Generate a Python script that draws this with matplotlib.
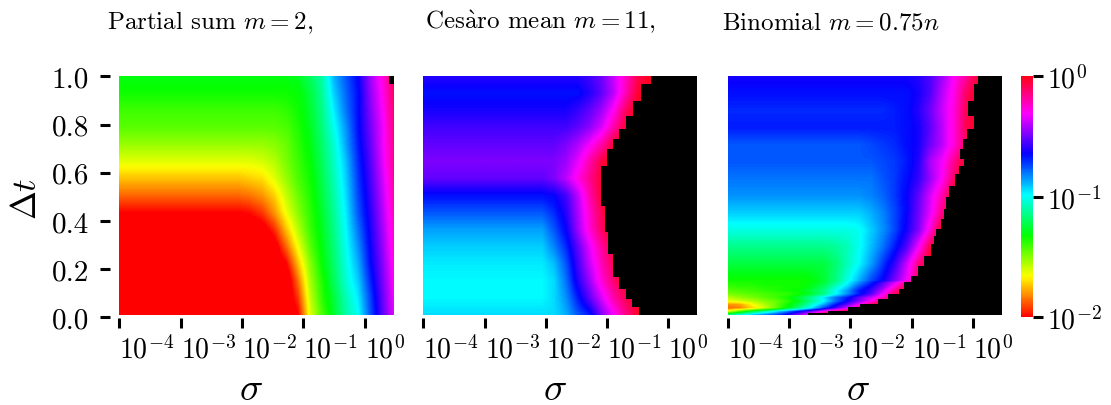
import numpy as np
from matplotlib import pyplot as plt
from matplotlib.patches import Rectangle

W, H = 1111, 406
SIG_MIN, SIG_MAX = -4.0, 0.477
DT_MIN = 0.01
STRIP_TOP = 0.152

SIGMA_TICKS = [-4, -3, -2, -1, 0]
SIGMA_LABELS = ["$10^{-4}$", "$10^{-3}$", "$10^{-2}$", "$10^{-1}$", "$10^{0}$"]
DT_TICKS = [0.0, 0.2, 0.4, 0.6, 0.8, 1.0]
DT_LABELS = ["0.0", "0.2", "0.4", "0.6", "0.8", "1.0"]
CBAR_TICKS = [-2, -1, 0]
CBAR_LABELS = ["$10^{-2}$", "$10^{-1}$", "$10^{0}$"]

TITLES = ["Partial sum $m=2$,", "Ces$\\mathrm{\\`a}$ro mean $m=11$,", "Binomial $m=0.75n$"]

# log10 of the error, rows from dt=1 down to dt=0.01, columns from sigma=1e-4 up
partial_log = [
    [-1.30] * 15 + [-1.28, -1.20, -1.10, -0.88, -0.76, -0.64, -0.44, -0.28, -0.08],
    [-1.34] * 15 + [-1.32, -1.24, -1.12, -0.92, -0.78, -0.66, -0.46, -0.30, -0.10],
    [-1.40] * 14 + [-1.38, -1.34, -1.26, -1.14, -0.96, -0.80, -0.66, -0.48, -0.32, -0.12],
    [-1.44] * 14 + [-1.42, -1.36, -1.28, -1.16, -1.00, -0.84, -0.66, -0.50, -0.34, -0.14],
    [-1.52] * 13 + [-1.50, -1.46, -1.38, -1.30, -1.18, -1.04, -0.86, -0.68, -0.52, -0.34, -0.16],
    [-1.62] * 12 + [-1.60, -1.56, -1.48, -1.40, -1.32, -1.20, -1.06, -0.90, -0.70, -0.54, -0.36, -0.16],
    [-1.74] * 11 + [-1.72, -1.70, -1.62, -1.52, -1.42, -1.34, -1.22, -1.08, -0.92, -0.72, -0.56, -0.38, -0.18],
    [-1.86] * 11 + [-1.84, -1.80, -1.72, -1.58, -1.46, -1.36, -1.24, -1.10, -0.94, -0.74, -0.58, -0.40, -0.20],
    [-2.00] * 11 + [-1.98, -1.92, -1.80, -1.64, -1.50, -1.38, -1.26, -1.12, -0.96, -0.76, -0.60, -0.42, -0.22],
    [-2.10] * 12 + [-2.06, -1.94, -1.74, -1.56, -1.40, -1.28, -1.14, -0.98, -0.80, -0.62, -0.44, -0.24],
    [-2.10] * 13 + [-2.06, -1.86, -1.64, -1.44, -1.30, -1.16, -1.00, -0.84, -0.64, -0.46, -0.26],
    [-2.10] * 14 + [-2.00, -1.74, -1.50, -1.32, -1.18, -1.02, -0.88, -0.66, -0.48, -0.28],
    [-2.10] * 15 + [-1.84, -1.54, -1.36, -1.20, -1.04, -0.92, -0.70, -0.50, -0.30],
    [-2.10] * 15 + [-1.92, -1.58, -1.38, -1.24, -1.08, -0.96, -0.74, -0.52, -0.32],
    [-2.10] * 15 + [-2.00, -1.62, -1.42, -1.26, -1.10, -1.00, -0.76, -0.54, -0.34],
]

cesaro_log = [
    [-0.60] * 14 + [-0.56, -0.50, -0.38, -0.24, -0.08, -0.02, 0, 0, 0, 0],
    [-0.66] * 14 + [-0.60, -0.52, -0.40, -0.22, -0.04, 0, 0, 0, 0, 0],
    [-0.62] * 13 + [-0.58, -0.52, -0.44, -0.30, -0.10] + [0] * 6,
    [-0.56] * 13 + [-0.52, -0.46, -0.36, -0.20, -0.04] + [0] * 6,
    [-0.52] * 12 + [-0.48, -0.42, -0.32, -0.20, -0.04] + [0] * 7,
    [-0.48] * 12 + [-0.44, -0.34, -0.20, -0.06] + [0] * 8,
    [-0.52] * 11 + [-0.48, -0.40, -0.28, -0.16, -0.04] + [0] * 8,
    [-0.66] * 11 + [-0.64, -0.56, -0.40, -0.20, -0.04] + [0] * 8,
    [-0.76] * 11 + [-0.70, -0.60, -0.42, -0.24, -0.08] + [0] * 8,
    [-0.86] * 11 + [-0.76, -0.64, -0.44, -0.26, -0.10] + [0] * 8,
    [-0.92] * 11 + [-0.82, -0.70, -0.52, -0.34, -0.18, -0.04] + [0] * 7,
    [-0.96] * 11 + [-0.90, -0.76, -0.56, -0.38, -0.22, -0.08] + [0] * 7,
    [-0.98] * 11 + [-0.94, -0.80, -0.60, -0.44, -0.26, -0.12, -0.02] + [0] * 6,
    [-0.98] * 11 + [-0.94, -0.84, -0.68, -0.52, -0.36, -0.20, -0.08] + [0] * 6,
    [-0.94] * 12 + [-0.88, -0.76, -0.68, -0.48, -0.32, -0.16, -0.04] + [0] * 5,
]

binomial_log = [
    [-0.62] * 16 + [-0.60, -0.54, -0.44, -0.30, -0.18, -0.04, 0, 0],
    [-0.66] * 16 + [-0.62, -0.54, -0.40, -0.28, -0.10, 0, 0, 0],
    [-0.70] * 14 + [-0.68, -0.66, -0.60, -0.50, -0.38, -0.26, -0.08, 0, 0, 0],
    [-0.68] * 15 + [-0.66, -0.62, -0.52, -0.40, -0.26, -0.08, 0, 0, 0],
    [-0.76] * 12 + [-0.74, -0.72, -0.70, -0.66, -0.62, -0.50, -0.40, -0.26, -0.10, 0, 0, 0],
    [-0.76] * 13 + [-0.74, -0.72, -0.68, -0.60, -0.42, -0.32, -0.16, 0, 0, 0, 0],
    [-0.80] * 13 + [-0.76, -0.72, -0.66, -0.58, -0.44, -0.30, -0.10, 0, 0, 0, 0],
    [-0.84] * 12 + [-0.82, -0.78, -0.72, -0.64, -0.52, -0.36, -0.20, 0, 0, 0, 0, 0],
    [-0.92] * 12 + [-0.88, -0.82, -0.74, -0.64, -0.50, -0.34, -0.14, 0, 0, 0, 0, 0],
    [-1.02] * 11 + [-1.00, -0.92, -0.84, -0.74, -0.62, -0.48, -0.26, 0, 0, 0, 0, 0, 0],
    [-1.14] * 9 + [-1.12, -1.08, -1.00, -0.90, -0.80, -0.68, -0.54, -0.32, -0.06, 0, 0, 0, 0, 0, 0],
    [-1.24] * 9 + [-1.18, -1.08, -0.98, -0.86, -0.72, -0.58, -0.38, -0.14, 0, 0, 0, 0, 0, 0, 0],
    [-1.34] * 7 + [-1.32, -1.26, -1.16, -1.02, -0.88, -0.74, -0.64, -0.48, -0.32, -0.08] + [0] * 7,
]

# finer rows for the small-dt corner of the binomial panel, dt=0.152 down to 0.01
binomial_strip_log = [
    [-1.34] * 7 + [-1.32, -1.26, -1.16, -1.02, -0.88, -0.74, -0.64, -0.48, -0.32, -0.08] + [0] * 7,
    [-1.36, -1.36, -1.36, -1.34, -1.34, -1.34, -1.34, -1.30, -1.24, -1.12, -0.98, -0.82, -0.68, -0.52, -0.34, -0.12] + [0] * 8,
    [-1.40, -1.38, -1.38, -1.36, -1.36, -1.34, -1.34, -1.28, -1.20, -1.06, -0.92, -0.74, -0.62, -0.48, -0.26, -0.06] + [0] * 8,
    [-1.44, -1.42, -1.40, -1.38, -1.36, -1.34, -1.32, -1.24, -1.16, -1.00, -0.86, -0.68, -0.58, -0.40, -0.16] + [0] * 9,
    [-1.48, -1.46, -1.44, -1.42, -1.40, -1.38, -1.34, -1.26, -1.16, -1.00, -0.84, -0.68, -0.54, -0.32, -0.10] + [0] * 9,
    [-1.56, -1.52, -1.48, -1.44, -1.40, -1.34, -1.24, -1.12, -0.96, -0.80, -0.68, -0.52, -0.38, -0.24, -0.04] + [0] * 9,
    [-1.64, -1.60, -1.56, -1.50, -1.46, -1.38, -1.28, -1.14, -1.00, -0.80, -0.64, -0.48, -0.30, -0.10] + [0] * 10,
    [-1.80, -1.78, -1.66, -1.56, -1.46, -1.34, -1.22, -1.06, -0.88, -0.68, -0.52, -0.32, -0.10] + [0] * 11,
    [-1.86, -1.82, -1.72, -1.60, -1.46, -1.30, -1.14, -0.96, -0.74, -0.56, -0.36, -0.14] + [0] * 12,
    [-1.60, -1.40, -1.24, -1.10, -0.96, -0.80, -0.64, -0.48, -0.28, -0.10] + [0] * 14,
    [-1.10, -1.00, -0.90, -0.80, -0.72, -0.60, -0.44, -0.24] + [0] * 16,
]

# where the error goes past 1 (black): row edges in dt, and the log10(sigma) it starts at
partial_edge_dt = [1.0, 0.968]
partial_edge_sigma = [0.396]

cesaro_edge_dt = [1.0, 0.968, 0.899, 0.837, 0.781, 0.740, 0.698, 0.629, 0.463, 0.353, 0.263, 0.166, 0.118, 0.076, 0.041, 0.010]
cesaro_edge_sigma = [-0.287, -0.450, -0.575, -0.683, -0.802, -0.900, -0.992, -1.100, -1.035, -0.981, -0.900, -0.802, -0.694, -0.585, -0.477]

binomial_edge_dt = [1.0, 0.968, 0.899, 0.837, 0.781, 0.740, 0.698, 0.657, 0.629, 0.595, 0.546, 0.498, 0.450, 0.408, 0.367, 0.339,
                    0.304, 0.256, 0.214, 0.173, 0.145, 0.118, 0.097, 0.076, 0.055, 0.041, 0.028, 0.018, 0.010]
binomial_edge_sigma = [0.093, 0.016, -0.082, 0.016, -0.092, -0.163, -0.201, -0.136, -0.218, -0.288, -0.381, -0.435, -0.463, -0.517,
                       -0.599, -0.626, -0.680, -0.789, -0.898, -1.007, -1.116, -1.197, -1.388, -1.551, -1.850, -2.041, -2.367, -2.694]

plt.rcParams["font.family"] = ["cmr10", "DejaVu Serif"]
plt.rcParams["mathtext.fontset"] = "cm"
plt.rcParams["axes.unicode_minus"] = False

CMAP = plt.get_cmap("hsv").copy()
CMAP.set_over("black")
CMAP.set_under(CMAP(0.0))


def px_axes(fig, left, right, top, bottom):
    return fig.add_axes([left / W, 1 - bottom / H, (right - left) / W, (bottom - top) / H])


def draw_grid(ax, grid, dt_low, dt_high):
    grid = np.array(grid)
    rows, cols = grid.shape
    dx = (SIG_MAX - SIG_MIN) / (cols - 1)
    dy = (dt_high - dt_low) / (rows - 1)
    im = ax.imshow(grid, origin="upper", aspect="auto", cmap=CMAP, vmin=-2, vmax=0,
                   interpolation="bilinear", interpolation_stage="data",
                   extent=[SIG_MIN - dx / 2, SIG_MAX + dx / 2, dt_low - dy / 2, dt_high + dy / 2])
    im.set_clip_path(Rectangle((SIG_MIN, dt_low), SIG_MAX - SIG_MIN, dt_high - dt_low, transform=ax.transData))
    return im


def draw_black(ax, edge_dt, edge_sigma):
    edge_dt = np.array(edge_dt)
    edge_sigma = np.array(edge_sigma)
    ax.barh((edge_dt[:-1] + edge_dt[1:]) / 2, SIG_MAX - edge_sigma, left=edge_sigma,
            height=edge_dt[:-1] - edge_dt[1:], color="black", linewidth=0, antialiased=False)


def style_axes(ax, first):
    ax.set_xlim(SIG_MIN, SIG_MAX)
    ax.set_ylim(0, 1)
    ax.spines["left"].set_position(("outward", 6.5))
    ax.spines["bottom"].set_position(("outward", 0.7))
    for side in ["left", "right", "top", "bottom"]:
        ax.spines[side].set_visible(False)
    ax.set_xticks(SIGMA_TICKS, SIGMA_LABELS, ha="left")
    ax.tick_params(axis="x", length=7.2, width=2.2, labelsize=20, pad=4.5)
    if first:
        ax.set_yticks(DT_TICKS, DT_LABELS)
        ax.tick_params(axis="y", length=7.2, width=2.2, labelsize=21, pad=8)
    else:
        ax.set_yticks([])


fig = plt.figure(figsize=(W / 100, H / 100), dpi=100)

ax1 = px_axes(fig, 119.3, 394, 77.3, 318.3)
im = draw_grid(ax1, partial_log, DT_MIN, 1.0)
draw_black(ax1, partial_edge_dt, partial_edge_sigma)
style_axes(ax1, True)

ax2 = px_axes(fig, 423.3, 697.3, 77.3, 318.3)
draw_grid(ax2, cesaro_log, DT_MIN, 1.0)
draw_black(ax2, cesaro_edge_dt, cesaro_edge_sigma)
style_axes(ax2, False)

ax3 = px_axes(fig, 728.3, 1001.7, 77.3, 318.3)
draw_grid(ax3, binomial_log, STRIP_TOP, 1.0)
draw_grid(ax3, binomial_strip_log, DT_MIN, STRIP_TOP)
draw_black(ax3, binomial_edge_dt, binomial_edge_sigma)
style_axes(ax3, False)

cax = px_axes(fig, 1020.7, 1033.3, 77.3, 318.3)
cbar = fig.colorbar(im, cax=cax)
cbar.outline.set_visible(False)
cbar.set_ticks(CBAR_TICKS, labels=CBAR_LABELS)
cbar.ax.tick_params(length=7.2, width=2.2, labelsize=20, pad=3)

for text, x in zip(TITLES, [107, 425, 722]):
    fig.text(x / W, 1 - 29 / H, text, fontsize=18, ha="left", va="baseline")

for x in [251, 555, 858]:
    fig.text(x / W, 1 - 390 / H, r"$\sigma$", fontsize=28, ha="center", va="center")
fig.text(27 / W, 1 - 199 / H, r"$\Delta t$", fontsize=25, rotation=90, ha="center", va="center")

fig.savefig("out.png", dpi=100)
